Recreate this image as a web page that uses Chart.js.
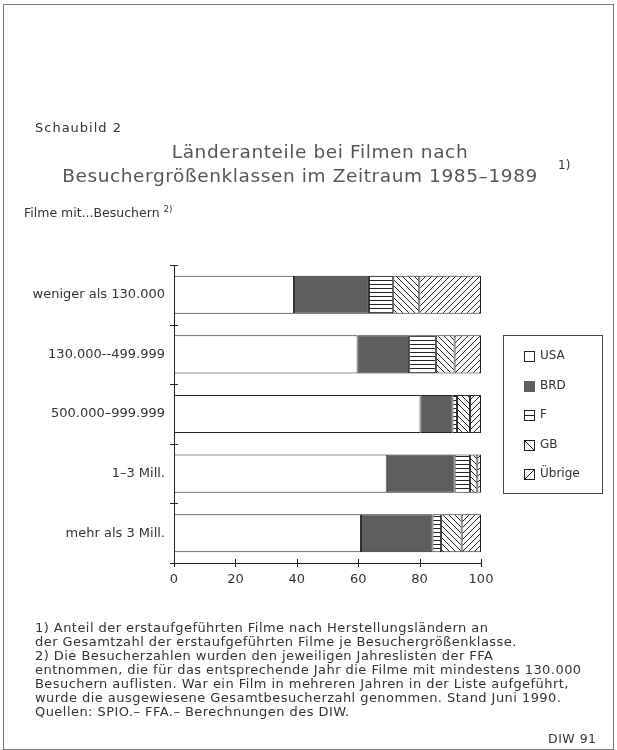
<!DOCTYPE html>
<html>
<head>
<meta charset="utf-8">
<script src="https://cdn.jsdelivr.net/npm/chart.js@4.4.0/dist/chart.umd.min.js"></script>
<style>
    html, body { margin: 0; padding: 0; background: #fff; }
    #page { position: relative; width: 617px; height: 750px; overflow: hidden; font-family: "DejaVu Sans", sans-serif; color: #333; }
    #frame { position: absolute; left: 3px; top: 4px; width: 609px; height: 744px; border: 1px solid #777; }
    #chart { position: absolute; left: 0; top: 0; }
    .txt { position: absolute; white-space: nowrap; }
    .title { color: #555; font-size: 18.5px; letter-spacing: 0.6px; text-align: center; }
    sup { font-size: 0.7em; vertical-align: 0.55em; line-height: 0; }
</style>
</head>
<body>
<div id="page">
    <div id="frame"></div>
    <canvas id="chart" width="617" height="750"></canvas>
    <div class="txt" style="left:35px; top:120px; font-size:13px; letter-spacing:1px;">Schaubild 2</div>
    <div class="txt title" style="left:0; width:640px; top:141px;">Länderanteile bei Filmen nach</div>
    <div class="txt title" style="left:0; width:600px; top:165px;">Besuchergrößenklassen im Zeitraum 1985–1989</div>
    <div class="txt" style="left:558px; top:158px; font-size:12px;">1)</div>
    <div class="txt" style="left:24px; top:205px; font-size:12.5px;">Filme mit...Besuchern <sup>2)</sup></div>
    <div class="txt" style="left:35px; top:621px; font-size:13px; letter-spacing:0.45px; line-height:14px;">
        1) Anteil der erstaufgeführten Filme nach Herstellungsländern an<br>
        der Gesamtzahl der erstaufgeführten Filme je Besuchergrößenklasse.<br>
        2) Die Besucherzahlen wurden den jeweiligen Jahreslisten der FFA<br>
        entnommen, die für das entsprechende Jahr die Filme mit mindestens 130.000<br>
        Besuchern auflisten. War ein Film in mehreren Jahren in der Liste aufgeführt,<br>
        wurde die ausgewiesene Gesamtbesucherzahl genommen. Stand Juni 1990.<br>
        Quellen: SPIO.– FFA.– Berechnungen des DIW.
    </div>
    <div class="txt" style="left:548px; top:731px; font-size:12.5px; letter-spacing:0.5px;">DIW 91</div>
</div>
<script>
// Besuchergrößenklassen
const categories = ["weniger als 130.000", "130.000--499.999", "500.000–999.999", "1–3 Mill.", "mehr als 3 Mill."];
const seriesNames = ["USA", "BRD", "F", "GB", "Übrige"];

// Anteile in %
const usaValues = [39.1, 59.8, 80.3, 69.3, 60.9];
const brdValues = [24.4, 16.8, 10.4, 22.1, 23.3];
const fValues = [7.9, 8.7, 1.5, 5.0, 2.8];
const gbValues = [8.5, 6.1, 4.2, 2.4, 6.7];
const otherValues = [20.1, 8.6, 3.6, 1.2, 6.3];

const xTicks = [0, 20, 40, 60, 80, 100];

const ink = "#222";

// hatch patterns
const makePattern = (kind) => {
    const size = kind === "h" ? 4 : 6;
    const c = document.createElement("canvas");
    c.width = size;
    c.height = size;
    const g = c.getContext("2d");
    g.fillStyle = "#fff";
    g.fillRect(0, 0, size, size);
    g.strokeStyle = ink;
    g.lineWidth = 1;
    g.beginPath();
    if (kind === "h") {
        g.moveTo(0, 0.5);
        g.lineTo(size, 0.5);
    } else if (kind === "b") {
        g.moveTo(-1, -1); g.lineTo(size + 1, size + 1);
        g.moveTo(-1, size - 1); g.lineTo(1, size + 1);
        g.moveTo(size - 1, -1); g.lineTo(size + 1, 1);
    } else {
        g.moveTo(-1, size + 1); g.lineTo(size + 1, -1);
        g.moveTo(-1, 1); g.lineTo(1, -1);
        g.moveTo(size - 1, size + 1); g.lineTo(size + 1, size - 1);
    }
    g.stroke();
    return g.createPattern(c, "repeat");
};

const ctx = document.getElementById("chart").getContext("2d");
const fills = ["#fff", "#5e5e5e", makePattern("h"), makePattern("b"), makePattern("s")];
const legendMarks = ["none", "solid", "h", "b", "s"];
const allValues = [usaValues, brdValues, fValues, gbValues, otherValues];

// crossing tick marks on both axes
const crossTicks = {
    id: "crossTicks",
    afterDraw(chart) {
        const g = chart.ctx;
        const x = chart.scales.x;
        const y = chart.scales.y;
        g.save();
        g.strokeStyle = ink;
        g.lineWidth = 1;
        g.beginPath();
        xTicks.forEach((v) => {
            const px = Math.round(x.getPixelForValue(v)) + 0.5;
            g.moveTo(px, y.bottom - 4);
            g.lineTo(px, y.bottom + 4);
        });
        const step = y.getPixelForValue(1) - y.getPixelForValue(0);
        for (let i = 0; i <= categories.length; i++) {
            const py = Math.round(y.getPixelForValue(0) - step / 2 + i * step) + 0.5;
            g.moveTo(x.left - 4, py);
            g.lineTo(x.left + 4, py);
        }
        g.stroke();
        g.restore();
    }
};

// boxed legend on the right
const boxLegend = {
    id: "boxLegend",
    afterDraw(chart) {
        const g = chart.ctx;
        g.save();
        g.strokeStyle = "#444";
        g.lineWidth = 1;
        g.strokeRect(503.5, 335.5, 99, 158);
        g.font = "12px 'DejaVu Sans'";
        g.textBaseline = "middle";
        chart.data.datasets.forEach((ds, i) => {
            const cy = 356 + i * 29.5;
            const bx = 524.5, by = Math.round(cy - 5) + 0.5;
            g.fillStyle = i === 1 ? "#5e5e5e" : "#fff";
            g.fillRect(bx, by, 10, 10);
            g.strokeStyle = i === 1 ? "#5e5e5e" : ink;
            g.strokeRect(bx, by, 10, 10);
            g.beginPath();
            g.strokeStyle = ink;
            if (legendMarks[i] === "h") { g.moveTo(bx, by + 5); g.lineTo(bx + 10, by + 5); }
            if (legendMarks[i] === "b") { g.moveTo(bx, by); g.lineTo(bx + 10, by + 10); }
            if (legendMarks[i] === "s") { g.moveTo(bx, by + 10); g.lineTo(bx + 10, by); }
            g.stroke();
            g.fillStyle = "#333";
            g.fillText(ds.label, 540, cy);
        });
        g.restore();
    }
};

new Chart(ctx, {
    type: "bar",
    data: {
        labels: categories,
        datasets: seriesNames.map((name, i) => ({
            label: name,
            data: allValues[i],
            backgroundColor: fills[i],
            borderColor: ink,
            borderWidth: 1,
            borderSkipped: false,
            barPercentage: 0.64,
            categoryPercentage: 1
        }))
    },
    options: {
        indexAxis: "y",
        responsive: false,
        animation: false,
        devicePixelRatio: 1,
        layout: { padding: { left: 0, top: 265, right: 136, bottom: 157 } },
        plugins: {
            legend: { display: false },
            tooltip: { enabled: false }
        },
        scales: {
            x: {
                stacked: true,
                min: 0,
                max: 100,
                afterBuildTicks: (s) => { s.ticks = xTicks.map((v) => ({ value: v })); },
                afterFit: (s) => { s.height = 30; },
                grid: { display: false },
                border: { color: ink, width: 1 },
                ticks: { color: "#333", padding: 1, font: { family: "DejaVu Sans", size: 13 } }
            },
            y: {
                stacked: true,
                afterFit: (s) => { s.width = 174; },
                grid: { display: false, offset: true },
                border: { color: ink, width: 1 },
                ticks: { color: "#333", padding: 1, font: { family: "DejaVu Sans", size: 13 } }
            }
        }
    },
    plugins: [crossTicks, boxLegend]
});
</script>
</body>
</html>
